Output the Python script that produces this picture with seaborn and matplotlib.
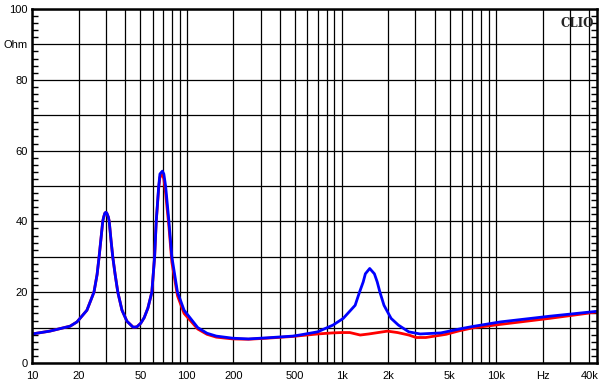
import numpy as np
import pandas as pd
import matplotlib
matplotlib.use("Agg")
from matplotlib import pyplot as plt
from matplotlib.ticker import FixedLocator, NullFormatter, MultipleLocator
import seaborn as sns

# impedance curves
freq_blue = [10, 13, 17.6, 19.5, 22.6, 25.1, 26.3, 27.1, 28.0, 28.6, 29.0, 29.5, 30.0, 30.4,
             31.1, 31.5, 32.3, 33.2, 34.4, 35.8, 38.1, 41, 45, 47.5, 50.3, 53, 56, 59.4,
             61.9, 63.4, 65.8, 67, 69.5, 71, 72.9, 76.6, 80, 87, 96, 117.6, 135, 155,
             198, 250, 327, 485, 536, 700, 880, 1025, 1224, 1306, 1380, 1425, 1520,
             1630, 1700, 1770, 1880, 2090, 2330, 2720, 3221, 4387, 5768, 7000, 10600,
             22000, 44700]
imp_blue = [8.2, 9.0, 10.4, 11.6, 14.9, 20.0, 25.0, 30.0, 36.0, 40.0, 41.2, 42.3, 42.6, 42.3,
            41.2, 40.0, 35.0, 30.0, 25.0, 20.0, 14.9, 11.8, 10.1, 10.2, 11.2, 12.8, 15.5, 20.0,
            30.0, 40.0, 50.0, 53.4, 54.2, 53.4, 50.0, 40.0, 30.0, 20.0, 14.9, 10.0, 8.4, 7.6,
            7.0, 6.8, 7.1, 7.6, 7.9, 8.8, 10.7, 12.6, 16.3, 20.0, 22.9, 25.2, 26.7,
            25.2, 22.9, 20.0, 16.3, 12.6, 10.7, 8.8, 8.2, 8.5, 9.6, 10.3, 11.6,
            13.2, 14.6]

freq_red = [10, 13, 17.6, 19.5, 22.6, 25.1, 26.3, 27.1, 28.0, 28.6, 29.0, 29.5, 30.0, 30.4,
            31.1, 31.5, 32.3, 33.2, 34.4, 35.8, 38.1, 41, 45, 47.5, 50.3, 53, 56, 59.4,
            61.9, 63.4, 65.8, 67, 69.5, 71, 72.9, 76.6, 80, 87, 96, 117.6, 135, 155,
            198, 250, 327, 485, 536, 700, 875, 1000, 1130, 1320, 1500, 1980, 2300,
            2720, 3033, 3500, 4736, 5768, 7000, 10600, 22000, 44700]
imp_red = [8.2, 9.0, 10.4, 11.6, 14.9, 20.0, 25.0, 30.0, 36.0, 40.0, 41.2, 42.3, 42.6, 42.3,
           41.2, 40.0, 35.0, 30.0, 25.0, 20.0, 14.9, 11.8, 10.1, 10.2, 11.2, 12.8, 15.5, 20.0,
           30.0, 40.0, 49.5, 52.5, 53.2, 52.0, 48.0, 38.5, 28.5, 19.0, 14.0, 9.6, 8.1, 7.3,
           6.8, 6.7, 7.0, 7.5, 7.7, 8.2, 8.5, 8.6, 8.6, 7.9, 8.2, 9.0, 8.6,
           7.9, 7.2, 7.2, 8.1, 9.1, 9.9, 10.9, 12.6, 14.4]

x_label_pos = [10, 20, 50, 100, 200, 500, 1000, 2000, 5000, 10000, 20000, 40000]
x_label_txt = ["10", "20", "50", "100", "200", "500", "1k", "2k", "5k", "10k", "Hz", "40k"]
y_label_txt = ["0", "", "20", "", "40", "", "60", "", "80", "Ohm", "100"]

sns.set_style("white")
plt.rcParams["font.family"] = ["Liberation Sans", "DejaVu Sans"]

df = pd.concat([
    pd.DataFrame({"Hz": freq_red, "Ohm": imp_red, "curve": "red"}),
    pd.DataFrame({"Hz": freq_blue, "Ohm": imp_blue, "curve": "blue"}),
])

fig = plt.figure(figsize=(6.06, 3.92), dpi=100)
ax = fig.add_axes([0.053, 0.074, 0.932, 0.903])

sns.lineplot(data=df, x="Hz", y="Ohm", hue="curve", palette={"red": "#ff0000", "blue": "#0000ff"},
             linewidth=2.0, legend=False, ax=ax, estimator=None, sort=False)

ax.set_xscale("log")
ax.set_xlim(10, 44700)
ax.set_ylim(0, 100)

# grid lines at every 1..9 per decade
grid_x = [m * 10 ** d for d in range(1, 5) for m in range(1, 10) if m * 10 ** d <= 44700]
ax.xaxis.set_major_locator(FixedLocator(x_label_pos))
ax.set_xticklabels(x_label_txt)
ax.xaxis.set_minor_locator(FixedLocator([g for g in grid_x if g not in x_label_pos]))
ax.xaxis.set_minor_formatter(NullFormatter())

ax.set_yticks(np.arange(0, 101, 10))
ax.set_yticklabels(y_label_txt)
ax.yaxis.set_minor_locator(MultipleLocator(2))

ax.grid(which="both", axis="x", color="black", linewidth=0.9)
ax.grid(which="major", axis="y", color="black", linewidth=0.9)
ax.set_axisbelow(True)

ax.tick_params(axis="x", which="both", length=0, labelsize=8, pad=6, colors="black")
ax.tick_params(axis="y", which="major", length=0, labelsize=8, pad=3, colors="black")
ax.tick_params(axis="y", which="minor", direction="in", length=4, width=1,
               left=True, right=True, color="black")

for s in ax.spines.values():
    s.set_color("black")
    s.set_linewidth(1.8)

ax.set_xlabel("")
ax.set_ylabel("")
ax.text(0.994, 0.978, "CLIO", transform=ax.transAxes, ha="right", va="top",
        fontsize=8.5, fontweight="bold", family=["DejaVu Serif"])

fig.savefig("out.png", dpi=100)
